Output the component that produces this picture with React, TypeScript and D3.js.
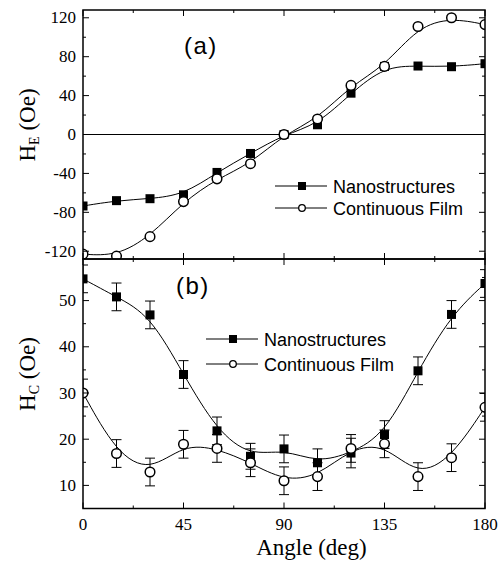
import React from "react";
import * as d3 from "d3";

const angles = [0, 15, 30, 45, 60, 75, 90, 105, 120, 135, 150, 165, 180];
const heNano = [-73.5, -68, -66, -62, -39, -19.5, 0, 10, 42.5, 70, 70.4, 69.7, 72.8];
const heFilm = [-123, -125, -105, -69, -45.6, -30, 0, 16, 50.5, 70, 111, 120, 113];
const hcNano = [54.7, 50.8, 46.9, 34, 21.8, 16.3, 17.9, 14.9, 17, 21, 34.8, 47, 53.7];
const hcFilm = [30, 16.9, 12.9, 18.9, 18, 14.9, 11, 11.9, 18, 19, 11.9, 16, 26.9];
const hcNanoErr = [3, 3, 3, 3, 3, 2.8, 3, 3, 3.2, 3, 3, 3, 3];
const hcFilmErr = [3, 3, 3, 3, 3, 3, 3, 3, 3, 3, 3, 3, 3];
const xTicks = [0, 45, 90, 135, 180];
const xMinor = [22.5, 67.5, 112.5, 157.5];
const heTicks = [-120, -80, -40, 0, 40, 80, 120];
const heMinor = [-100, -60, -20, 20, 60, 100];
const hcTicks = [10, 20, 30, 40, 50];
const hcMinor = [5, 15, 25, 35, 45, 55];
const seriesNames = ["Nanostructures", "Continuous Film"];

const L = 83, R = 485;
const T1 = 10, B1 = 259, T2 = 259, B2 = 508.5;
const serif = "'Liberation Serif', 'Times New Roman', serif";
const sans = "'Liberation Sans', Arial, sans-serif";

function Frame({ y, top, bottom, majors, minors }: any) {
  const els: any[] = [];
  const tk = (x1: number, y1: number, x2: number, y2: number, k: string) =>
    els.push(<line key={k} x1={x1} y1={y1} x2={x2} y2={y2} stroke="#000" strokeWidth={1} />);
  majors.forEach((v: number) => {
    tk(L, y(v), L + 6, y(v), "lm" + v);
    tk(R, y(v), R - 6, y(v), "rm" + v);
  });
  minors.forEach((v: number) => {
    tk(L, y(v), L + 3, y(v), "ln" + v);
    tk(R, y(v), R - 3, y(v), "rn" + v);
  });
  return <g>{els}</g>;
}

export default function App() {
  const x = d3.scaleLinear().domain([0, 180]).range([L, R]);
  const y1 = d3.scaleLinear().domain([-128, 128]).range([B1, T1]);
  const y2 = d3.scaleLinear().domain([5, 59]).range([B2, T2]);

  const line1 = d3.line<number>().x((_, i) => x(angles[i])).y((d) => y1(d)).curve(d3.curveBasis);
  const line2 = d3.line<number>().x((_, i) => x(angles[i])).y((d) => y2(d)).curve(d3.curveBasis);

  const xTickEls = (top: number, bottom: number, k: string) => (
    <g>
      {xTicks.map((v) => (
        <g key={k + v}>
          <line x1={x(v)} x2={x(v)} y1={bottom} y2={bottom - 6} stroke="#000" />
          <line x1={x(v)} x2={x(v)} y1={top} y2={top + 6} stroke="#000" />
        </g>
      ))}
      {xMinor.map((v) => (
        <g key={k + "m" + v}>
          <line x1={x(v)} x2={x(v)} y1={bottom} y2={bottom - 3} stroke="#000" />
          <line x1={x(v)} x2={x(v)} y1={top} y2={top + 3} stroke="#000" />
        </g>
      ))}
    </g>
  );

  const square = (cx: number, cy: number, s: number, k: string) => (
    <rect key={k} x={cx - s / 2} y={cy - s / 2} width={s} height={s} fill="#000" />
  );
  const circle = (cx: number, cy: number, r: number, k: string, sw = 1.5) => (
    <circle key={k} cx={cx} cy={cy} r={r} fill="#fff" stroke="#000" strokeWidth={sw} />
  );

  const errBars = (vals: number[], errs: number[], k: string) =>
    vals.map((v, i) => {
      const cx = x(angles[i]);
      const a = y2(v + errs[i]);
      const b = y2(v - errs[i]);
      return (
        <g key={k + i} stroke="#000" strokeWidth={1}>
          <line x1={cx} x2={cx} y1={a} y2={b} />
          <line x1={cx - 5} x2={cx + 5} y1={a} y2={a} />
          <line x1={cx - 5} x2={cx + 5} y1={b} y2={b} />
        </g>
      );
    });

  const legend = (lx: number, ly1: number, ly2: number, k: string) => (
    <g key={k}>
      <line x1={lx} x2={lx + 52} y1={ly1} y2={ly1} stroke="#000" strokeWidth={1.2} />
      {square(lx + 27, ly1, 8, k + "s")}
      <text x={lx + 58} y={ly1 + 6.5} fontFamily={sans} fontSize={18}>{seriesNames[0]}</text>
      <line x1={lx} x2={lx + 52} y1={ly2} y2={ly2} stroke="#000" strokeWidth={1} />
      {circle(lx + 27, ly2, 3.3, k + "c", 1.3)}
      <text x={lx + 58} y={ly2 + 6.5} fontFamily={sans} fontSize={18}>{seriesNames[1]}</text>
    </g>
  );

  return (
    <svg width={503} height={563} style={{ position: "absolute", left: 0, top: 0, background: "#fff" }}>
      <defs>
        <clipPath id="c1"><rect x={L} y={T1} width={R - L} height={B1 - T1} /></clipPath>
        <clipPath id="c2"><rect x={L} y={T2} width={R - L} height={B2 - T2} /></clipPath>
      </defs>
      <rect x={0} y={0} width={503} height={563} fill="#fff" />

      {/* Panel (a) */}
      <g clipPath="url(#c1)">
        <line x1={L} x2={R} y1={y1(0)} y2={y1(0)} stroke="#000" strokeWidth={1} />
        <path d={line1(heNano) || ""} fill="none" stroke="#000" strokeWidth={1} />
        <path d={line1(heFilm) || ""} fill="none" stroke="#000" strokeWidth={1} />
        {heNano.map((v, i) => square(x(angles[i]), y1(v), 9, "an" + i))}
        {heFilm.map((v, i) => circle(x(angles[i]), y1(v), 4.8, "af" + i))}
      </g>
      <Frame y={y1} majors={heTicks} minors={heMinor} />
      {xTickEls(T1, B1, "a")}
      {heTicks.map((v) => (
        <text key={"hl" + v} x={76} y={y1(v)} dy="0.33em" textAnchor="end" fontFamily={serif} fontSize={17}>
          {v}
        </text>
      ))}
      <text x={184} y={54} fontFamily={sans} fontSize={24} letterSpacing={1.5}>(a)</text>
      {legend(275, 186, 208, "la")}

      {/* Panel (b) */}
      <g clipPath="url(#c2)">
        {errBars(hcNano, hcNanoErr, "en")}
        {errBars(hcFilm, hcFilmErr, "ef")}
        <path d={line2(hcNano) || ""} fill="none" stroke="#000" strokeWidth={1} />
        <path d={line2(hcFilm) || ""} fill="none" stroke="#000" strokeWidth={1} />
        {hcNano.map((v, i) => square(x(angles[i]), y2(v), 9, "bn" + i))}
        {hcFilm.map((v, i) => circle(x(angles[i]), y2(v), 4.8, "bf" + i))}
      </g>
      <Frame y={y2} majors={hcTicks} minors={hcMinor} />
      {xTickEls(T2, B2, "b")}
      {hcTicks.map((v) => (
        <text key={"cl" + v} x={76} y={y2(v)} dy="0.33em" textAnchor="end" fontFamily={serif} fontSize={17}>
          {v}
        </text>
      ))}
      <text x={176} y={294} fontFamily={sans} fontSize={24} letterSpacing={1.5}>(b)</text>
      {legend(206, 339, 364, "lb")}

      {/* frames */}
      <rect x={L} y={T1} width={R - L} height={B1 - T1} fill="none" stroke="#000" strokeWidth={1.5} />
      <rect x={L} y={T2} width={R - L} height={B2 - T2} fill="none" stroke="#000" strokeWidth={1.5} />

      {xTicks.map((v) => (
        <text key={"xl" + v} x={x(v)} y={530} textAnchor="middle" fontFamily={serif} fontSize={17}>
          {v}
        </text>
      ))}
      <text x={311.5} y={555} textAnchor="middle" fontFamily={serif} fontSize={23}>Angle (deg)</text>

      <text transform="translate(35,125) rotate(-90)" textAnchor="middle" fontFamily={serif} fontSize={23}>
        H<tspan fontSize={14} dy={4}>E</tspan><tspan dy={-4}> (Oe)</tspan>
      </text>
      <text transform="translate(35,374) rotate(-90)" textAnchor="middle" fontFamily={serif} fontSize={23}>
        H<tspan fontSize={14} dy={4}>C</tspan><tspan dy={-4}> (Oe)</tspan>
      </text>
    </svg>
  );
}
